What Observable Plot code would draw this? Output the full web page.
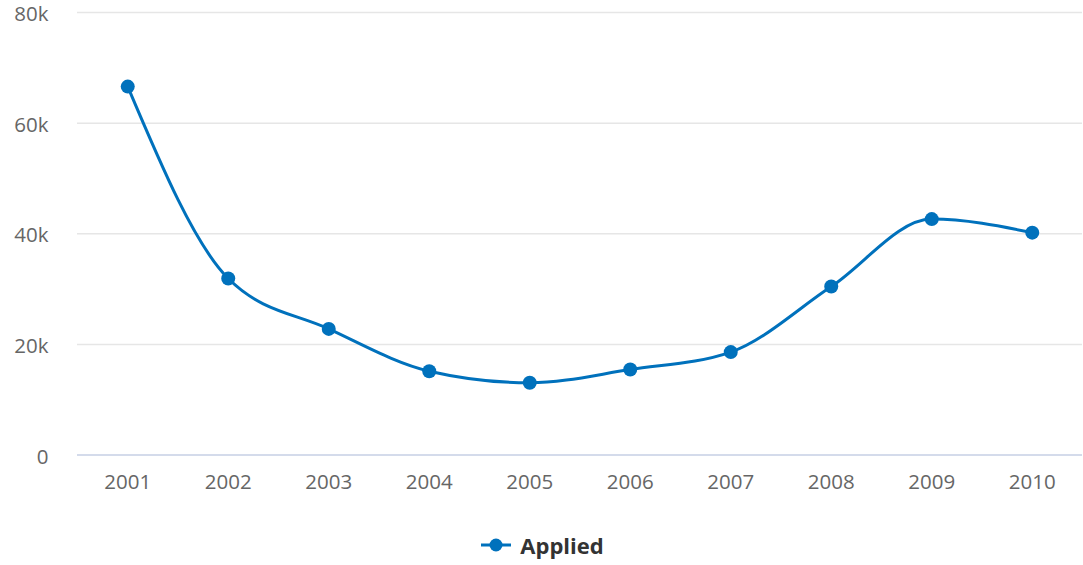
<!DOCTYPE html>
<html>
<head>
<meta charset="utf-8">
<script src="https://cdn.jsdelivr.net/npm/d3@7"></script>
<script src="https://cdn.jsdelivr.net/npm/@observablehq/plot@0.6"></script>
<style>
  html, body { margin: 0; padding: 0; background: #fff; }
  #chart { width: 1083px; height: 520px; }
  #chart svg { overflow: visible; }
  #legend { display: flex; justify-content: center; align-items: center; height: 45px; padding-top: 5px; box-sizing: border-box; font-family: "Open Sans", sans-serif; font-weight: bold; font-size: 22px; color: #333; }
  #legend svg { margin-right: 9px; margin-left: 2px; }
</style>
</head>
<body>
<div id="chart"></div>
<div id="legend"></div>
<script>
const years = ["2001","2002","2003","2004","2005","2006","2007","2008","2009","2010"];
const applied = [66600, 31900, 22800, 15150, 13050, 15450, 18600, 30450, 42650, 40200];
const yTicks = [0, 20000, 40000, 60000, 80000];
const seriesName = "Applied";
const color = "#0071bc";

const data = years.map((y, i) => ({year: y, value: applied[i]}));

const chart = Plot.plot({
  width: 1083,
  height: 520,
  marginLeft: 77,
  marginRight: 1,
  marginTop: 12,
  marginBottom: 65.5,
  style: {fontFamily: "Open Sans, sans-serif", fontSize: "20.5px", color: "#666", background: "#fff"},
  x: {type: "point", domain: years, padding: 0.5, align: 0.5, round: false, label: null},
  y: {domain: [0, 80000], label: null},
  marks: [
    Plot.gridY(yTicks, {stroke: "#e6e6e6", strokeOpacity: 1, strokeWidth: 1.5}),
    Plot.ruleY([0], {stroke: "#ccd6eb", strokeWidth: 1.5}),
    Plot.axisY(yTicks, {tickSize: 0, tickPadding: 29, dy: 2, tickFormat: d => d === 0 ? "0" : (d / 1000) + "k", fill: "#666", fontSize: 20.5}),
    Plot.axisX({tickSize: 0, tickPadding: 19, fill: "#666", fontSize: 20.5}),
    Plot.line(data, {x: "year", y: "value", stroke: color, strokeWidth: 3, curve: "monotone-x"}),
    Plot.dot(data, {x: "year", y: "value", fill: color, r: 7})
  ]
});
document.getElementById("chart").appendChild(chart);

const legend = document.getElementById("legend");
const ns = "http://www.w3.org/2000/svg";
const sym = document.createElementNS(ns, "svg");
sym.setAttribute("width", "30"); sym.setAttribute("height", "16");
const ln = document.createElementNS(ns, "line");
ln.setAttribute("x1", "0"); ln.setAttribute("x2", "30"); ln.setAttribute("y1", "8"); ln.setAttribute("y2", "8");
ln.setAttribute("stroke", color); ln.setAttribute("stroke-width", "3");
const c = document.createElementNS(ns, "circle");
c.setAttribute("cx", "15"); c.setAttribute("cy", "8"); c.setAttribute("r", "6.5"); c.setAttribute("fill", color);
sym.appendChild(ln); sym.appendChild(c);
legend.appendChild(sym);
const t = document.createElement("span"); t.textContent = seriesName;
legend.appendChild(t);
</script>
</body>
</html>
